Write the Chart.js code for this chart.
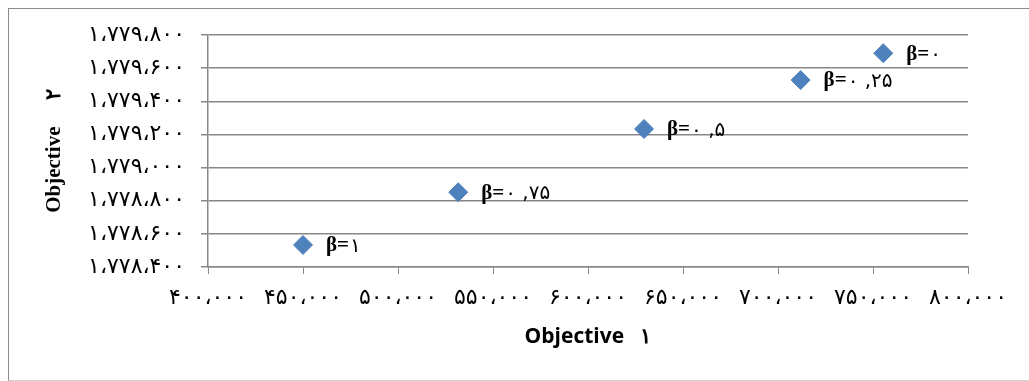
<!DOCTYPE html>
<html>
<head>
<meta charset="utf-8">
<script src="https://cdn.jsdelivr.net/npm/chart.js@4"></script>
<style>
  body { margin: 0; background: #fff; }
  #frame { position: absolute; left: 8px; top: 8px; width: 1040px; height: 371px;
           border: 1px solid #8c8c8c; border-bottom-color: #d0d0d0; }
  #chart { position: absolute; left: 0; top: 0; }
</style>
</head>
<body>
<div id="frame"></div>
<canvas id="chart" width="1029" height="381"></canvas>
<script>
// objective values for each beta
const betaLabels = ['β=۱', 'β=۰ ,۷۵', 'β=۰ ,۵', 'β=۰ ,۲۵', 'β=۰'];
const objective1 = [450000, 531700, 629500, 711900, 755400];
const objective2 = [1778533, 1778851, 1779233, 1779528, 1779690];

const xTicks = [400000, 450000, 500000, 550000, 600000, 650000, 700000, 750000, 800000];
const yTicks = [1778400, 1778600, 1778800, 1779000, 1779200, 1779400, 1779600, 1779800];

const faDigits = '۰۱۲۳۴۵۶۷۸۹';
function toFa(n) {
    return n.toLocaleString('en-US')
        .replace(/\d/g, d => faDigits[d])
        .replace(/,/g, '،');
}

const points = objective1.map((x, i) => ({ x: x, y: objective2[i] }));

// "β=" in bold serif, the number part in a plain face
const pointLabels = {
    id: 'pointLabels',
    afterDatasetsDraw(chart) {
        const ctx = chart.ctx;
        const meta = chart.getDatasetMeta(0);
        ctx.save();
        ctx.fillStyle = '#000';
        ctx.textAlign = 'left';
        ctx.textBaseline = 'middle';
        meta.data.forEach((el, i) => {
            const parts = betaLabels[i].split('=');
            const head = parts[0] + '=';
            let x = el.x + 23;
            ctx.font = 'bold 21px "Liberation Serif"';
            ctx.fillText(head, x, el.y + 1);
            x += ctx.measureText(head).width + 1;
            ctx.font = '20px "DejaVu Sans"';
            ctx.fillText(parts[1], x, el.y + 2);
        });
        ctx.restore();
    }
};

new Chart(document.getElementById('chart'), {
    type: 'scatter',
    data: {
        datasets: [{
            data: points,
            pointStyle: 'rectRot',
            pointRadius: 9.5,
            pointHoverRadius: 9.5,
            backgroundColor: '#4F81BD',
            borderColor: '#4F81BD',
            borderWidth: 1
        }]
    },
    options: {
        responsive: false,
        animation: false,
        layout: { padding: { left: 0, right: 61, top: 35, bottom: 0 } },
        plugins: {
            legend: { display: false },
            tooltip: { enabled: false }
        },
        scales: {
            x: {
                type: 'linear',
                min: xTicks[0],
                max: xTicks[xTicks.length - 1],
                afterBuildTicks: s => { s.ticks = xTicks.map(v => ({ value: v })); },
                afterFit: s => { s.height = 114; },
                grid: { drawOnChartArea: false, tickLength: 7, color: '#878787', lineWidth: 1 },
                border: { color: '#878787', width: 1.5 },
                ticks: {
                    padding: 11,
                    maxRotation: 0,
                    color: '#000',
                    font: { family: 'DejaVu Sans', size: 22 },
                    callback: v => toFa(v)
                },
                title: {
                    display: true,
                    text: 'Objective   ۱',
                    color: '#000',
                    font: { family: 'Open Sans', size: 21, weight: 'bold' },
                    padding: { top: 0, bottom: 31 }
                }
            },
            y: {
                type: 'linear',
                min: yTicks[0],
                max: yTicks[yTicks.length - 1],
                afterBuildTicks: s => { s.ticks = yTicks.map(v => ({ value: v })); },
                afterFit: s => { s.width = 208; },
                grid: { tickLength: 7, color: '#878787', lineWidth: 1.5 },
                border: { color: '#878787', width: 1.5 },
                ticks: {
                    padding: 16,
                    color: '#000',
                    font: { family: 'DejaVu Sans', size: 22 },
                    callback: v => toFa(v)
                },
                title: {
                    display: true,
                    text: 'Objective     ۲',
                    color: '#000',
                    font: { family: 'Liberation Serif', size: 21, weight: 'bold' },
                    padding: { top: 42, bottom: 0 }
                }
            }
        }
    },
    plugins: [pointLabels]
});
</script>
</body>
</html>
